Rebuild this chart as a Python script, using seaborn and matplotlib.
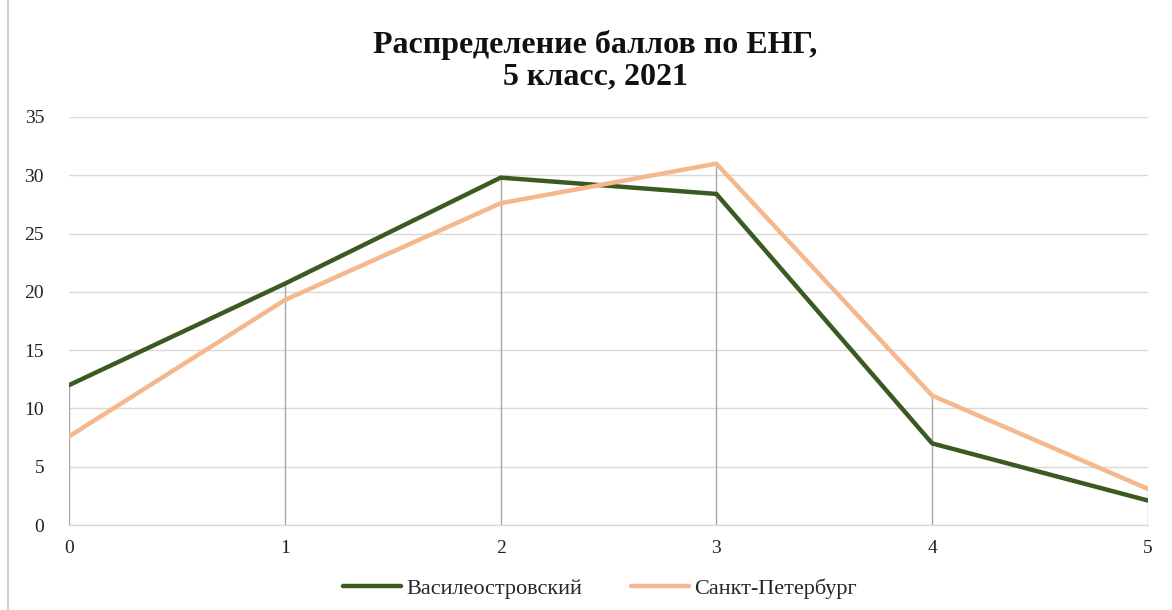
import pandas as pd
import numpy as np
import seaborn as sns
import matplotlib.pyplot as plt
from matplotlib.lines import Line2D

# Data
scores = [0, 1, 2, 3, 4, 5]
vasileostrovsky = [12.0, 20.7, 29.8, 28.4, 7.0, 2.1]
spb = [7.6, 19.3, 27.6, 31.0, 11.1, 3.1]
series_names = ['Василеостровский', 'Санкт-Петербург']
colors = ['#3a5a22', '#f5b78e']

df = pd.DataFrame({
    'score': scores * 2,
    'value': vasileostrovsky + spb,
    'series': [series_names[0]] * 6 + [series_names[1]] * 6,
})

sns.set_style('white')
plt.rcParams['font.family'] = ['Liberation Serif', 'DejaVu Serif']

fig = plt.figure(figsize=(11.72, 6.1), dpi=100)
ax = fig.add_axes([0.0589, 0.1393, 0.9206, 0.6689])

# drop lines from max of both series to axis
tops = np.maximum(vasileostrovsky, spb)
ax.vlines(scores, 0, tops, color='#a6a6a6', lw=1.0, zorder=1)

sns.lineplot(data=df, x='score', y='value', hue='series', palette=colors,
             linewidth=3.2, ax=ax, legend=False, zorder=3)

ax.set_xlim(0, 5)
ax.set_ylim(0, 35)
ax.set_yticks(range(0, 36, 5))
ax.set_xticks(scores)
ax.yaxis.grid(True, color='#d9d9d9', lw=1.0)
ax.set_axisbelow(True)
for s in ['top', 'right', 'left']:
    ax.spines[s].set_visible(False)
ax.spines['bottom'].set_color('#d9d9d9')
ax.spines['bottom'].set_linewidth(1.0)
ax.tick_params(axis='both', length=0, labelsize=14, colors='#222222')
ax.tick_params(axis='y', pad=18)
ax.tick_params(axis='x', pad=11)
ax.set_xlabel('')
ax.set_ylabel('')

fig.text(0.508, 0.9, 'Распределение баллов по ЕНГ,\n5 класс, 2021',
         ha='center', va='center', fontsize=23, fontweight='bold',
         linespacing=1.1, color='#111111')

handles = [Line2D([], [], color=c, lw=3.2) for c in colors]
fig.legend(handles, series_names, loc='center', bbox_to_anchor=(0.512, 0.035),
           ncol=2, frameon=False, fontsize=16, handlelength=2.6,
           handletextpad=0.25, columnspacing=2.2)

# chart border on the left edge
fig.add_artist(Line2D([0.007, 0.007], [0, 1], color='#d0d0d0', lw=1.5,
                      transform=fig.transFigure))

fig.savefig('out.png', dpi=100)
